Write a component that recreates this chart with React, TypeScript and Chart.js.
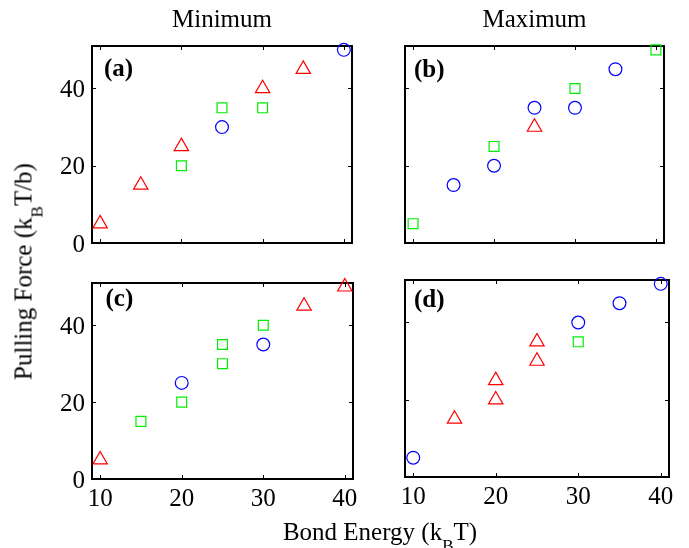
import React, { useEffect, useRef } from 'react';
import { Chart, registerables } from 'chart.js';

Chart.register(...registerables);

// ---- axes ----
const X_TICKS = [10, 20, 30, 40];
const Y_TICKS = [0, 20, 40];
const X_MIN = 9;
const X_MAX = 41;
const Y_MIN = 0;
const Y_MAX = 51;

// ---- panel (a): Minimum ----
const aTriangles = [[10, 5], [15, 15], [20, 25], [30, 40], [35, 45]];
const aSquares = [[20, 20], [25, 35], [30, 35]];
const aCircles = [[25, 30], [40, 50]];

// ---- panel (b): Maximum ----
const bTriangles = [[25, 30]];
const bSquares = [[10, 5], [20, 25], [30, 40], [40, 50]];
const bCircles = [[15, 15], [20, 20], [25, 35], [30, 35], [35, 45]];

// ---- panel (c): Minimum ----
const cTriangles = [[10, 5], [35, 45], [40, 50]];
const cSquares = [[15, 15], [20, 20], [25, 35], [25, 30], [30, 40]];
const cCircles = [[20, 25], [30, 35]];

// ---- panel (d): Maximum ----
const dTriangles = [[15, 15], [20, 20], [20, 25], [25, 35], [25, 30]];
const dSquares = [[30, 35]];
const dCircles = [[10, 5], [30, 40], [35, 45], [40, 50]];

const RED = '#ff0000';
const GREEN = '#00ee00';
const BLUE = '#0000ff';
const FONT = 'Liberation Serif, Times New Roman, serif';

const W = 689;
const H = 548;
const Y_AXIS_W = 60;
const X_AXIS_H = 40;

type Panel = {
  key: string;
  tri: number[][];
  sq: number[][];
  circ: number[][];
  left: number; top: number; right: number; bottom: number;
  showX: boolean; showY: boolean;
};

const PANELS: Panel[] = [
  { key: 'a', tri: aTriangles, sq: aSquares, circ: aCircles, left: 92, top: 46, right: 352, bottom: 243, showX: false, showY: true },
  { key: 'b', tri: bTriangles, sq: bSquares, circ: bCircles, left: 405, top: 46, right: 664, bottom: 243, showX: false, showY: false },
  { key: 'c', tri: cTriangles, sq: cSquares, circ: cCircles, left: 92, top: 283, right: 353, bottom: 479, showX: true, showY: true },
  { key: 'd', tri: dTriangles, sq: dSquares, circ: dCircles, left: 405, top: 280, right: 669, bottom: 477, showX: true, showY: false },
];

const boxPlugin = {
  id: 'matlabBox',
  beforeDatasetsDraw(chart: any) {
    const { ctx, chartArea: a, scales } = chart;
    ctx.save();
    ctx.strokeStyle = '#000';
    ctx.lineWidth = 1;
    const L = 4;
    ctx.beginPath();
    X_TICKS.forEach((v) => {
      const x = Math.round(scales.x.getPixelForValue(v)) + 0.5;
      ctx.moveTo(x, a.bottom); ctx.lineTo(x, a.bottom - L);
      ctx.moveTo(x, a.top); ctx.lineTo(x, a.top + L);
    });
    Y_TICKS.forEach((v) => {
      const y = Math.round(scales.y.getPixelForValue(v)) + 0.5;
      ctx.moveTo(a.left, y); ctx.lineTo(a.left + L, y);
      ctx.moveTo(a.right, y); ctx.lineTo(a.right - L, y);
    });
    ctx.stroke();
    ctx.lineWidth = 2;
    ctx.strokeRect(a.left, a.top, a.right - a.left, a.bottom - a.top);
    ctx.restore();
  },
};

function ds(points: number[][], style: string, radius: number, color: string) {
  return {
    data: points.map(([x, y]) => ({ x, y })),
    pointStyle: style,
    pointRadius: radius,
    pointHoverRadius: radius,
    pointBorderWidth: 1.2,
    pointBorderColor: color,
    pointBackgroundColor: 'rgba(0,0,0,0)',
    borderColor: color,
    backgroundColor: 'rgba(0,0,0,0)',
    showLine: false,
    clip: false as any,
  };
}

function makeConfig(p: Panel): any {
  const tickFont = { family: FONT, size: 25 };
  return {
    type: 'scatter',
    data: {
      datasets: [
        ds(p.tri, 'triangle', 8.3, RED),
        ds(p.sq, 'rect', 7, GREEN),
        ds(p.circ, 'circle', 6.4, BLUE),
      ],
    },
    options: {
      responsive: false,
      animation: false,
      devicePixelRatio: 1,
      events: [],
      layout: {
        padding: {
          left: p.left - Y_AXIS_W,
          top: p.top,
          right: W - p.right,
          bottom: H - p.bottom - X_AXIS_H,
        },
      },
      plugins: { legend: { display: false }, tooltip: { enabled: false }, title: { display: false } },
      scales: {
        x: {
          type: 'linear',
          min: X_MIN,
          max: X_MAX,
          afterBuildTicks: (s: any) => { s.ticks = X_TICKS.map((v) => ({ value: v })); },
          afterFit: (s: any) => { s.height = X_AXIS_H; },
          grid: { display: false, drawTicks: false },
          border: { display: false },
          ticks: { display: p.showX, font: tickFont, color: '#000', padding: 5, maxRotation: 0, autoSkip: false },
        },
        y: {
          type: 'linear',
          min: Y_MIN,
          max: Y_MAX,
          afterBuildTicks: (s: any) => { s.ticks = Y_TICKS.map((v) => ({ value: v })); },
          afterFit: (s: any) => { s.width = Y_AXIS_W; },
          grid: { display: false, drawTicks: false },
          border: { display: false },
          ticks: { display: p.showY, font: tickFont, color: '#000', padding: 7, labelOffset: 2, autoSkip: false },
        },
      },
    },
    plugins: [boxPlugin],
  };
}

const abs = (o: any): React.CSSProperties => ({ position: 'absolute', margin: 0, padding: 0, whiteSpace: 'nowrap', ...o });

const sub: React.CSSProperties = { fontSize: 17, lineHeight: '17px', verticalAlign: -11 };

export default function App() {
  const refs = [useRef<HTMLCanvasElement>(null), useRef<HTMLCanvasElement>(null), useRef<HTMLCanvasElement>(null), useRef<HTMLCanvasElement>(null)];

  useEffect(() => {
    const charts = PANELS.map((p, i) => new Chart(refs[i].current as HTMLCanvasElement, makeConfig(p)));
    return () => charts.forEach((c) => c.destroy());
  }, []);

  const textBase: React.CSSProperties = { fontFamily: FONT, fontSize: 25, lineHeight: '25px', color: '#000' };
  const labelBase: React.CSSProperties = { fontFamily: FONT, fontSize: 25, lineHeight: '25px', fontWeight: 'bold', color: '#000' };

  return (
    <div style={{ position: 'fixed', left: 0, top: 0, width: W, height: H, background: '#fff', overflow: 'hidden' }}>
      {PANELS.map((p, i) => (
        <canvas key={p.key} ref={refs[i]} width={W} height={H} style={abs({ left: 0, top: 0, width: W, height: H })} />
      ))}
      <div style={abs({ ...textBase, left: 92, top: 6, width: 260, textAlign: 'center' })}>Minimum</div>
      <div style={abs({ ...textBase, left: 405, top: 6, width: 259, textAlign: 'center' })}>Maximum</div>
      <div style={abs({ ...textBase, left: 230, top: 519, width: 300, height: 40, textAlign: 'center' })}>
        Bond Energy (k<span style={sub}>B</span>T)
      </div>
      <div
        style={abs({
          ...textBase,
          left: 27 - 150,
          top: 271 - 16.5,
          width: 300,
          height: 33,
          overflow: 'hidden',
          textAlign: 'center',
          transform: 'rotate(-90deg)',
          transformOrigin: '50% 50%',
        })}
      >
        Pulling Force (k<span style={sub}>B</span>T/b)
      </div>
      <div style={abs({ ...labelBase, left: 104, top: 55 })}>(a)</div>
      <div style={abs({ ...labelBase, left: 414, top: 56 })}>(b)</div>
      <div style={abs({ ...labelBase, left: 105.5, top: 285 })}>(c)</div>
      <div style={abs({ ...labelBase, left: 414, top: 286 })}>(d)</div>
    </div>
  );
}
